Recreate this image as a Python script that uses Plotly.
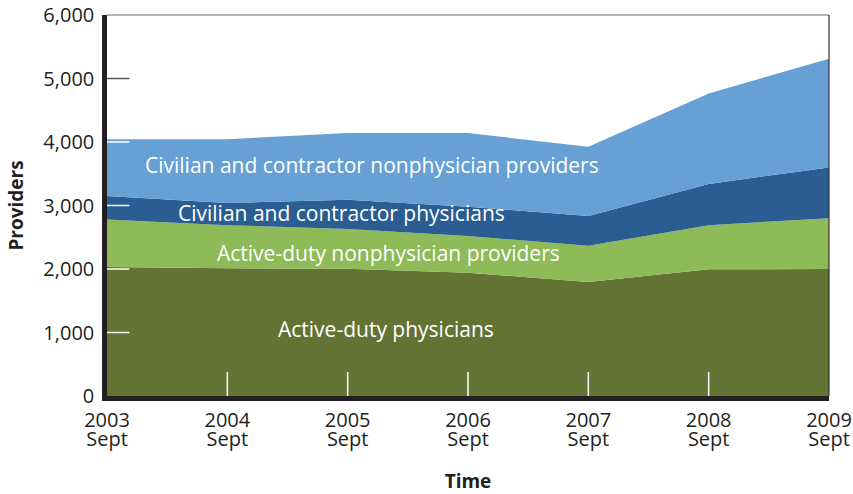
import plotly.graph_objects as go

years = [2003, 2004, 2005, 2006, 2007, 2008, 2009]
year_labels = [str(y) for y in years]
month_labels = ["Sept"] * len(years)

active_physicians = [2030, 2010, 2005, 1940, 1795, 1995, 2000]
active_nonphysicians = [750, 680, 625, 580, 570, 695, 800]
civilian_physicians = [370, 350, 460, 460, 470, 650, 800]
civilian_nonphysicians = [895, 1005, 1050, 1160, 1090, 1425, 1710]

series = [
    ("Active-duty physicians", active_physicians, "#627333"),
    ("Active-duty nonphysician providers", active_nonphysicians, "#8EBA58"),
    ("Civilian and contractor physicians", civilian_physicians, "#2A5D91"),
    ("Civilian and contractor nonphysician providers", civilian_nonphysicians, "#67A0D5"),
]

label_pos = {
    "Active-duty physicians": (2005.32, 1060),
    "Active-duty nonphysician providers": (2005.34, 2250),
    "Civilian and contractor physicians": (2004.95, 2880),
    "Civilian and contractor nonphysician providers": (2005.2, 3640),
}

y_ticks = [0, 1000, 2000, 3000, 4000, 5000, 6000]

FONT = "Open Sans"
TXT = "#231F20"
fig = go.Figure()
for name, vals, color in series:
    fig.add_trace(go.Scatter(
        x=years, y=vals, name=name, stackgroup="one", mode="none",
        fillcolor=color, line=dict(width=0), hoverinfo="x+y+name",
    ))
# carrier trace for the second row of x labels
fig.add_trace(go.Scatter(x=years, y=[0] * len(years), xaxis="x2", mode="none",
                         showlegend=False, hoverinfo="skip"))

for name, (lx, ly) in label_pos.items():
    fig.add_annotation(x=lx, y=ly, text=name, showarrow=False,
                       font=dict(family=FONT, size=21, color="white"))

# inner tick marks
first_total = sum(s[1][0] for s in series)
shapes = []
for y in years[1:-1]:
    shapes.append(dict(type="line", xref="x", yref="paper", x0=y, x1=y, y0=0, y1=0.063,
                       line=dict(color="white", width=1.5)))
for v in y_ticks[1:-1]:
    col = "white" if v < first_total else "#555555"
    shapes.append(dict(type="line", xref="paper", yref="y", x0=0, x1=0.031, y0=v, y1=v,
                       line=dict(color=col, width=1.5)))
# top and right frame
shapes.append(dict(type="line", xref="paper", yref="paper", x0=0, x1=1, y0=1, y1=1,
                   line=dict(color="#666666", width=1.2)))
shapes.append(dict(type="line", xref="paper", yref="paper", x0=1, x1=1, y0=0, y1=1,
                   line=dict(color="#333333", width=1.2)))

fig.update_layout(
    width=853, height=494,
    margin=dict(l=107, r=24, t=15, b=98),
    paper_bgcolor="white", plot_bgcolor="white",
    showlegend=False,
    shapes=shapes,
    font=dict(family=FONT, color=TXT),
    xaxis=dict(
        range=[2003, 2009], tickvals=years, ticktext=year_labels, automargin=False,
        showgrid=False, zeroline=False, showline=True, linecolor=TXT, linewidth=4.5,
        ticks="", ticklabelstandoff=2, ticklabeloverflow="allow",
        tickfont=dict(family=FONT, size=20, color=TXT),
    ),
    xaxis2=dict(
        range=[2003, 2009], tickvals=years, ticktext=month_labels, automargin=False,
        overlaying="x", side="bottom", anchor="y", matches="x",
        showgrid=False, zeroline=False, showline=False,
        ticks="", ticklabelstandoff=29, ticklabeloverflow="allow",
        tickfont=dict(family=FONT, size=20, color=TXT),
        title=dict(text="<b>Time</b>", font=dict(family=FONT, size=19, color=TXT), standoff=25),
    ),
    yaxis=dict(
        range=[0, 6000], tickvals=y_ticks, tickformat=",d", automargin=False,
        showgrid=False, zeroline=False, showline=True, linecolor=TXT, linewidth=4.5,
        ticks="", ticklabelstandoff=4, ticklabeloverflow="allow",
        tickfont=dict(family=FONT, size=20, color=TXT),
        title=dict(text="<b>Providers</b>", font=dict(family=FONT, size=19, color=TXT), standoff=16),
    ),
)

fig.write_html(
    "out.html",
    config={"displayModeBar": False},
    post_script="document.body.style.margin='0';document.body.style.overflow='hidden';",
)
